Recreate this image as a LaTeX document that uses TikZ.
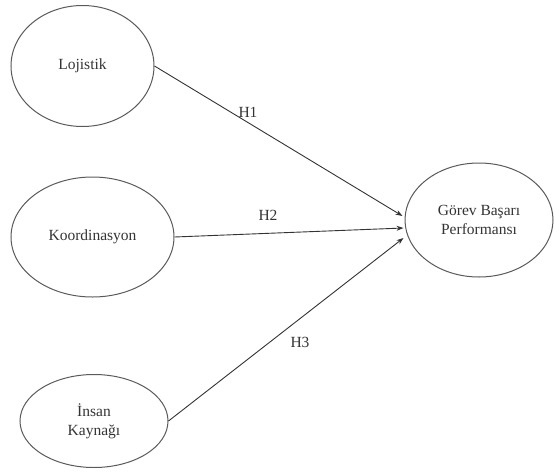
\documentclass[tikz,border=0pt]{standalone}
\usepackage{fontspec}
\setmainfont{Liberation Serif}
\usetikzlibrary{shapes.geometric,arrows.meta}
\definecolor{ink}{HTML}{333333}
\definecolor{edge}{HTML}{5A5A5A}
\tikzset{
  construct/.style={ellipse, draw=edge, line width=1pt, inner sep=0pt, align=center, text=ink, font=\fontsize{15.5}{19}\selectfont},
  link/.style={draw=ink, line width=0.9pt, -{Stealth[length=7pt,width=5pt]}},
  hyp/.style={text=ink, font=\fontsize{15.5}{18}\selectfont, inner sep=0pt}
}
\begin{document}
\begin{tikzpicture}[x=1pt,y=-1pt]
\useasboundingbox (0,0) rectangle (554,474);
\node[construct, minimum width=143pt, minimum height=121pt] (loj) at (82.5,66) {Lojistik};
\node[construct, minimum width=163pt, minimum height=120pt] (koo) at (92.5,237) {Koordinasyon};
\node[construct, minimum width=148pt, minimum height=93pt] (ins) at (94,421) {İnsan\\Kaynağı};
\node[construct, minimum width=148pt, minimum height=114pt] (gor) at (479,220) {Görev Başarı\\Performansı};
\draw[link] (loj.east) -- ([xshift=-2pt,yshift=4pt]gor.west);
\draw[link] (koo.east) -- ([xshift=-1pt,yshift=-8pt]gor.west);
\draw[link] (ins.east) -- ([xshift=-1pt,yshift=-18pt]gor.west);
\node[hyp] (h1) at (248,112) {H1};
\node[hyp] (h2) at (268,215) {H2};
\node[hyp] (h3) at (300,342) {H3};
\end{tikzpicture}
\end{document}
